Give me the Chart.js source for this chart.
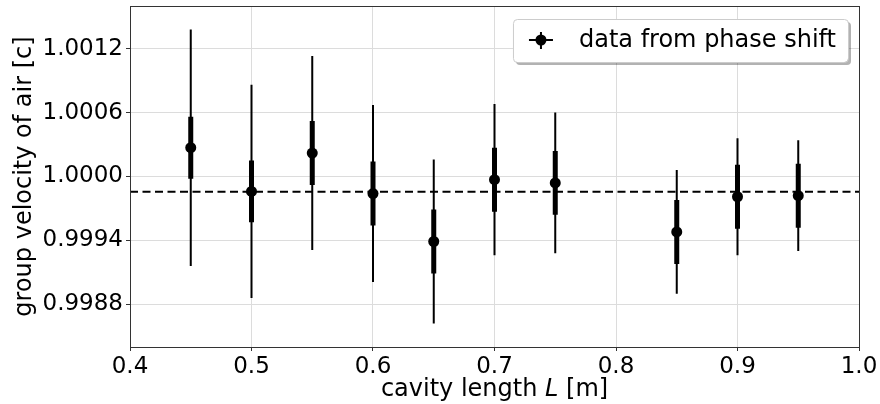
<!DOCTYPE html>
<html>
<head>
<meta charset="utf-8">
<script src="https://cdn.jsdelivr.net/npm/chart.js@4.4.0/dist/chart.umd.min.js"></script>
<style>
html, body { margin: 0; padding: 0; background: #fff; }
#wrap { width: 880px; height: 404px; }
</style>
</head>
<body>
<div id="wrap"><canvas id="velocity-chart" width="880" height="404"></canvas></div>
<script>
// values
var cavityLength = [0.45, 0.5, 0.55, 0.6, 0.65, 0.7, 0.75, 0.85, 0.9, 0.95];
var groupVelocity = [1.00027, 0.99986, 1.00022, 0.99984, 0.99939, 0.99997, 0.99994, 0.99948, 0.99981, 0.99982];
var statError = [0.00029, 0.00029, 0.00030, 0.00030, 0.00030, 0.00030, 0.00030, 0.00030, 0.00030, 0.00030];
var totalError = [0.00111, 0.00100, 0.00091, 0.00083, 0.00077, 0.00071, 0.00066, 0.00058, 0.00055, 0.00052];
var meanVelocity = 0.999857;

var xTicks = [0.4, 0.5, 0.6, 0.7, 0.8, 0.9, 1.0];
var yTicks = [0.9988, 0.9994, 1.0000, 1.0006, 1.0012];
var xRange = [0.4, 1.0];
var yRange = [0.9984, 1.0016];

var legendLabel = 'data from phase shift';
var xTitle = ['cavity length ', 'L', ' [m]'];
var yTitle = 'group velocity of air [c]';

var FONT = '"DejaVu Sans", sans-serif';

// error bars as line segments, broken by null points
var barData = function(errors) {
    var d = [];
    for (var i = 0; i < cavityLength.length; i++) {
        d.push({x: cavityLength[i], y: groupVelocity[i] - errors[i]});
        d.push({x: cavityLength[i], y: groupVelocity[i] + errors[i]});
        d.push({x: cavityLength[i], y: null});
    }
    return d;
}

var points = cavityLength.map(function(x, i) { return {x: x, y: groupVelocity[i]}; });

var framePlugin = {
    id: 'frame',
    afterDatasetsDraw: function(chart) {
        var ctx = chart.ctx, a = chart.chartArea;
        ctx.save();
        ctx.strokeStyle = '#333';
        ctx.lineWidth = 1;
        ctx.strokeRect(Math.round(a.left) + 0.5, Math.round(a.top) + 0.5,
            Math.round(a.right - a.left), Math.round(a.bottom - a.top));
        ctx.restore();
    },
    afterDraw: function(chart) {
        var ctx = chart.ctx, a = chart.chartArea;
        ctx.save();
        // x axis title with italic L
        var normal = '24px ' + FONT, italic = 'italic 24px ' + FONT;
        ctx.font = normal;
        var w0 = ctx.measureText(xTitle[0]).width;
        var w2 = ctx.measureText(xTitle[2]).width;
        ctx.font = italic;
        var w1 = ctx.measureText(xTitle[1]).width;
        var x = (a.left + a.right) / 2 - (w0 + w1 + w2) / 2;
        var y = 396;
        ctx.fillStyle = '#000';
        ctx.textBaseline = 'alphabetic';
        ctx.textAlign = 'left';
        ctx.font = normal;
        ctx.fillText(xTitle[0], x, y);
        ctx.font = italic;
        ctx.fillText(xTitle[1], x + w0, y);
        ctx.font = normal;
        ctx.fillText(xTitle[2], x + w0 + w1, y);

        // legend box
        ctx.font = '24px ' + FONT;
        var tw = ctx.measureText(legendLabel).width;
        var right = a.right - 11, top = a.top + 13, h = 43;
        var left = right - (12 + tw + 66);
        var r = 4;
        var box = function(x0, y0) {
            ctx.beginPath();
            ctx.roundRect(x0, y0, right - left, h, r);
        };
        ctx.fillStyle = 'rgba(0,0,0,0.3)';
        box(left + 3, top + 3);
        ctx.fill();
        ctx.fillStyle = '#fff';
        box(left, top);
        ctx.fill();
        ctx.strokeStyle = '#cccccc';
        ctx.lineWidth = 1;
        box(left + 0.5, top + 0.5);
        ctx.stroke();

        var cx = left + 28, cy = top + 21;
        ctx.strokeStyle = '#000';
        ctx.lineWidth = 2;
        ctx.beginPath();
        ctx.moveTo(cx - 12, cy); ctx.lineTo(cx + 12, cy);
        ctx.moveTo(cx, cy - 8); ctx.lineTo(cx, cy + 9);
        ctx.stroke();
        ctx.fillStyle = '#000';
        ctx.beginPath();
        ctx.arc(cx, cy, 5.5, 0, Math.PI * 2);
        ctx.fill();

        ctx.textBaseline = 'alphabetic';
        ctx.fillText(legendLabel, left + 66, top + 28);
        ctx.restore();
    }
};

var ctx = document.getElementById('velocity-chart').getContext('2d');
var chart = new Chart(ctx, {
    type: 'scatter',
    data: {
        datasets: [{
            label: legendLabel,
            data: points,
            pointRadius: 5.5,
            pointHoverRadius: 5.5,
            pointBackgroundColor: '#000',
            pointBorderWidth: 0,
            order: 0
        }, {
            label: 'stat',
            data: barData(statError),
            showLine: true,
            borderColor: '#000',
            borderWidth: 5,
            pointRadius: 0,
            spanGaps: false,
            order: 1
        }, {
            label: 'total',
            data: barData(totalError),
            showLine: true,
            borderColor: '#000',
            borderWidth: 2,
            pointRadius: 0,
            spanGaps: false,
            order: 2
        }, {
            label: 'mean',
            data: [{x: xRange[0], y: meanVelocity}, {x: xRange[1], y: meanVelocity}],
            showLine: true,
            borderColor: '#000',
            borderWidth: 2,
            borderDash: [8, 4.5],
            pointRadius: 0,
            order: 3
        }]
    },
    options: {
        responsive: false,
        maintainAspectRatio: false,
        animation: false,
        devicePixelRatio: 1,
        layout: { padding: { top: 6, right: 21, left: 0, bottom: 0 } },
        plugins: {
            legend: { display: false },
            tooltip: { enabled: false }
        },
        scales: {
            x: {
                type: 'linear',
                min: xRange[0],
                max: xRange[1],
                afterBuildTicks: function(scale) {
                    scale.ticks = xTicks.map(function(v) { return {value: v}; });
                },
                afterFit: function(scale) {
                    scale.height = 57;
                    scale.paddingLeft = 0;
                    scale.paddingRight = 0;
                },
                ticks: {
                    color: '#000',
                    font: { family: FONT, size: 23 },
                    padding: 2,
                    maxRotation: 0,
                    callback: function(v) { return Number(v).toFixed(1); }
                },
                grid: { color: '#dcdcdc', lineWidth: 1, tickLength: 4, tickColor: '#333' },
                border: { display: false }
            },
            y: {
                type: 'linear',
                min: yRange[0],
                max: yRange[1],
                afterBuildTicks: function(scale) {
                    scale.ticks = yTicks.map(function(v) { return {value: v}; });
                },
                afterFit: function(scale) {
                    scale.width = 130;
                    scale.paddingTop = 0;
                    scale.paddingBottom = 0;
                },
                ticks: {
                    color: '#000',
                    font: { family: FONT, size: 23 },
                    padding: 3,
                    callback: function(v) { return Number(v).toFixed(4); }
                },
                grid: { color: '#dcdcdc', lineWidth: 1, tickLength: 4, tickColor: '#333' },
                border: { display: false },
                title: {
                    display: true,
                    text: yTitle,
                    color: '#000',
                    font: { family: FONT, size: 24 },
                    padding: { top: 10, bottom: 0 }
                }
            }
        }
    },
    plugins: [framePlugin]
});
</script>
</body>
</html>
